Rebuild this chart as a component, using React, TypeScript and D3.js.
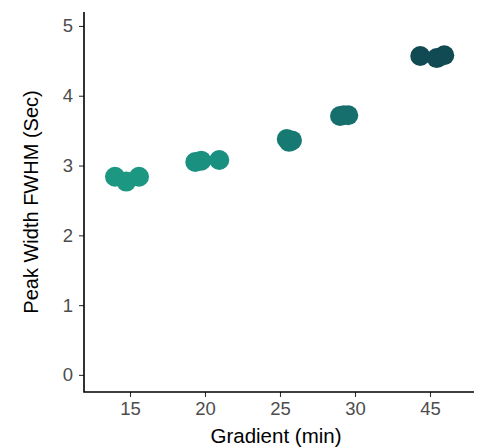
import React, { useRef, useEffect } from "react";
import * as d3 from "d3";

const categories = ["15", "20", "25", "30", "45"];
const groupColors = ["#1b9782", "#1a9080", "#177a72", "#176f6d", "#124a53"];
// three replicates per gradient
const peakWidths = [
  [2.84, 2.77, 2.84],
  [3.05, 3.07, 3.08],
  [3.38, 3.36, 3.34],
  [3.71, 3.72, 3.72],
  [4.57, 4.54, 4.58],
];
// horizontal jitter, in band units
const jitter = [
  [-0.2, -0.05, 0.12],
  [-0.13, -0.05, 0.19],
  [0.09, 0.16, 0.12],
  [-0.2, -0.09, -0.15],
  [-0.13, 0.09, 0.19],
];
const yTicks = [0, 1, 2, 3, 4, 5];

const App = () => {
  const svgRef = useRef<SVGSVGElement>(null);

  useEffect(() => {
    const svg = d3.select(svgRef.current);
    svg.selectAll("*").remove();

    const width = 486;
    const height = 448;
    const left = 84;
    const right = 474;
    const top = 12;
    const bottom = 392;
    const font = "'Liberation Sans', Arial, sans-serif";

    const x = d3.scalePoint().domain(categories).range([130, 430]);
    const step = x.step();
    const y = d3.scaleLinear().domain([-0.245, 5.2]).range([bottom, top]);

    svg.attr("width", width).attr("height", height);

    const points = categories.flatMap((c, i) =>
      peakWidths[i].map((v, j) => ({ c, i, v, dx: jitter[i][j] }))
    );

    svg
      .append("g")
      .selectAll("circle")
      .data(points)
      .join("circle")
      .attr("cx", (d) => (x(d.c) as number) + d.dx * step)
      .attr("cy", (d) => y(d.v))
      .attr("r", 10)
      .attr("fill", (d) => groupColors[d.i]);

    // y axis
    const yAxis = svg
      .append("g")
      .attr("transform", `translate(${left},0)`)
      .call(d3.axisLeft(y).tickValues(yTicks).tickSize(5).tickPadding(6).tickFormat(d3.format("d")));
    yAxis.select(".domain").remove();
    yAxis.selectAll(".tick line").attr("stroke", "#333").attr("stroke-width", 1.1);
    yAxis
      .selectAll(".tick text")
      .attr("fill", "#4d4d4d")
      .attr("font-size", 18.5)
      .attr("font-family", font);

    // x axis
    const xAxis = svg
      .append("g")
      .attr("transform", `translate(0,${bottom})`)
      .call(d3.axisBottom(x).tickSize(5).tickPadding(5));
    xAxis.select(".domain").remove();
    xAxis.selectAll(".tick line").attr("stroke", "#333").attr("stroke-width", 1.1);
    xAxis
      .selectAll(".tick text")
      .attr("fill", "#4d4d4d")
      .attr("font-size", 18.5)
      .attr("font-family", font);

    svg
      .append("path")
      .attr("d", `M${left},${top}V${bottom}H${right}`)
      .attr("fill", "none")
      .attr("stroke", "#000")
      .attr("stroke-width", 1.6);

    svg
      .append("text")
      .attr("x", 276)
      .attr("y", 443)
      .attr("text-anchor", "middle")
      .attr("font-size", 20.5)
      .attr("font-family", font)
      .text("Gradient (min)");

    svg
      .append("text")
      .attr("transform", `translate(38,${(top + bottom) / 2}) rotate(-90)`)
      .attr("text-anchor", "middle")
      .attr("font-size", 20)
      .attr("font-family", font)
      .text("Peak Width FWHM (Sec)");
  }, []);

  return (
    <div style={{ position: "absolute", left: 0, top: 0 }}>
      <svg ref={svgRef}></svg>
    </div>
  );
};

export default App;
